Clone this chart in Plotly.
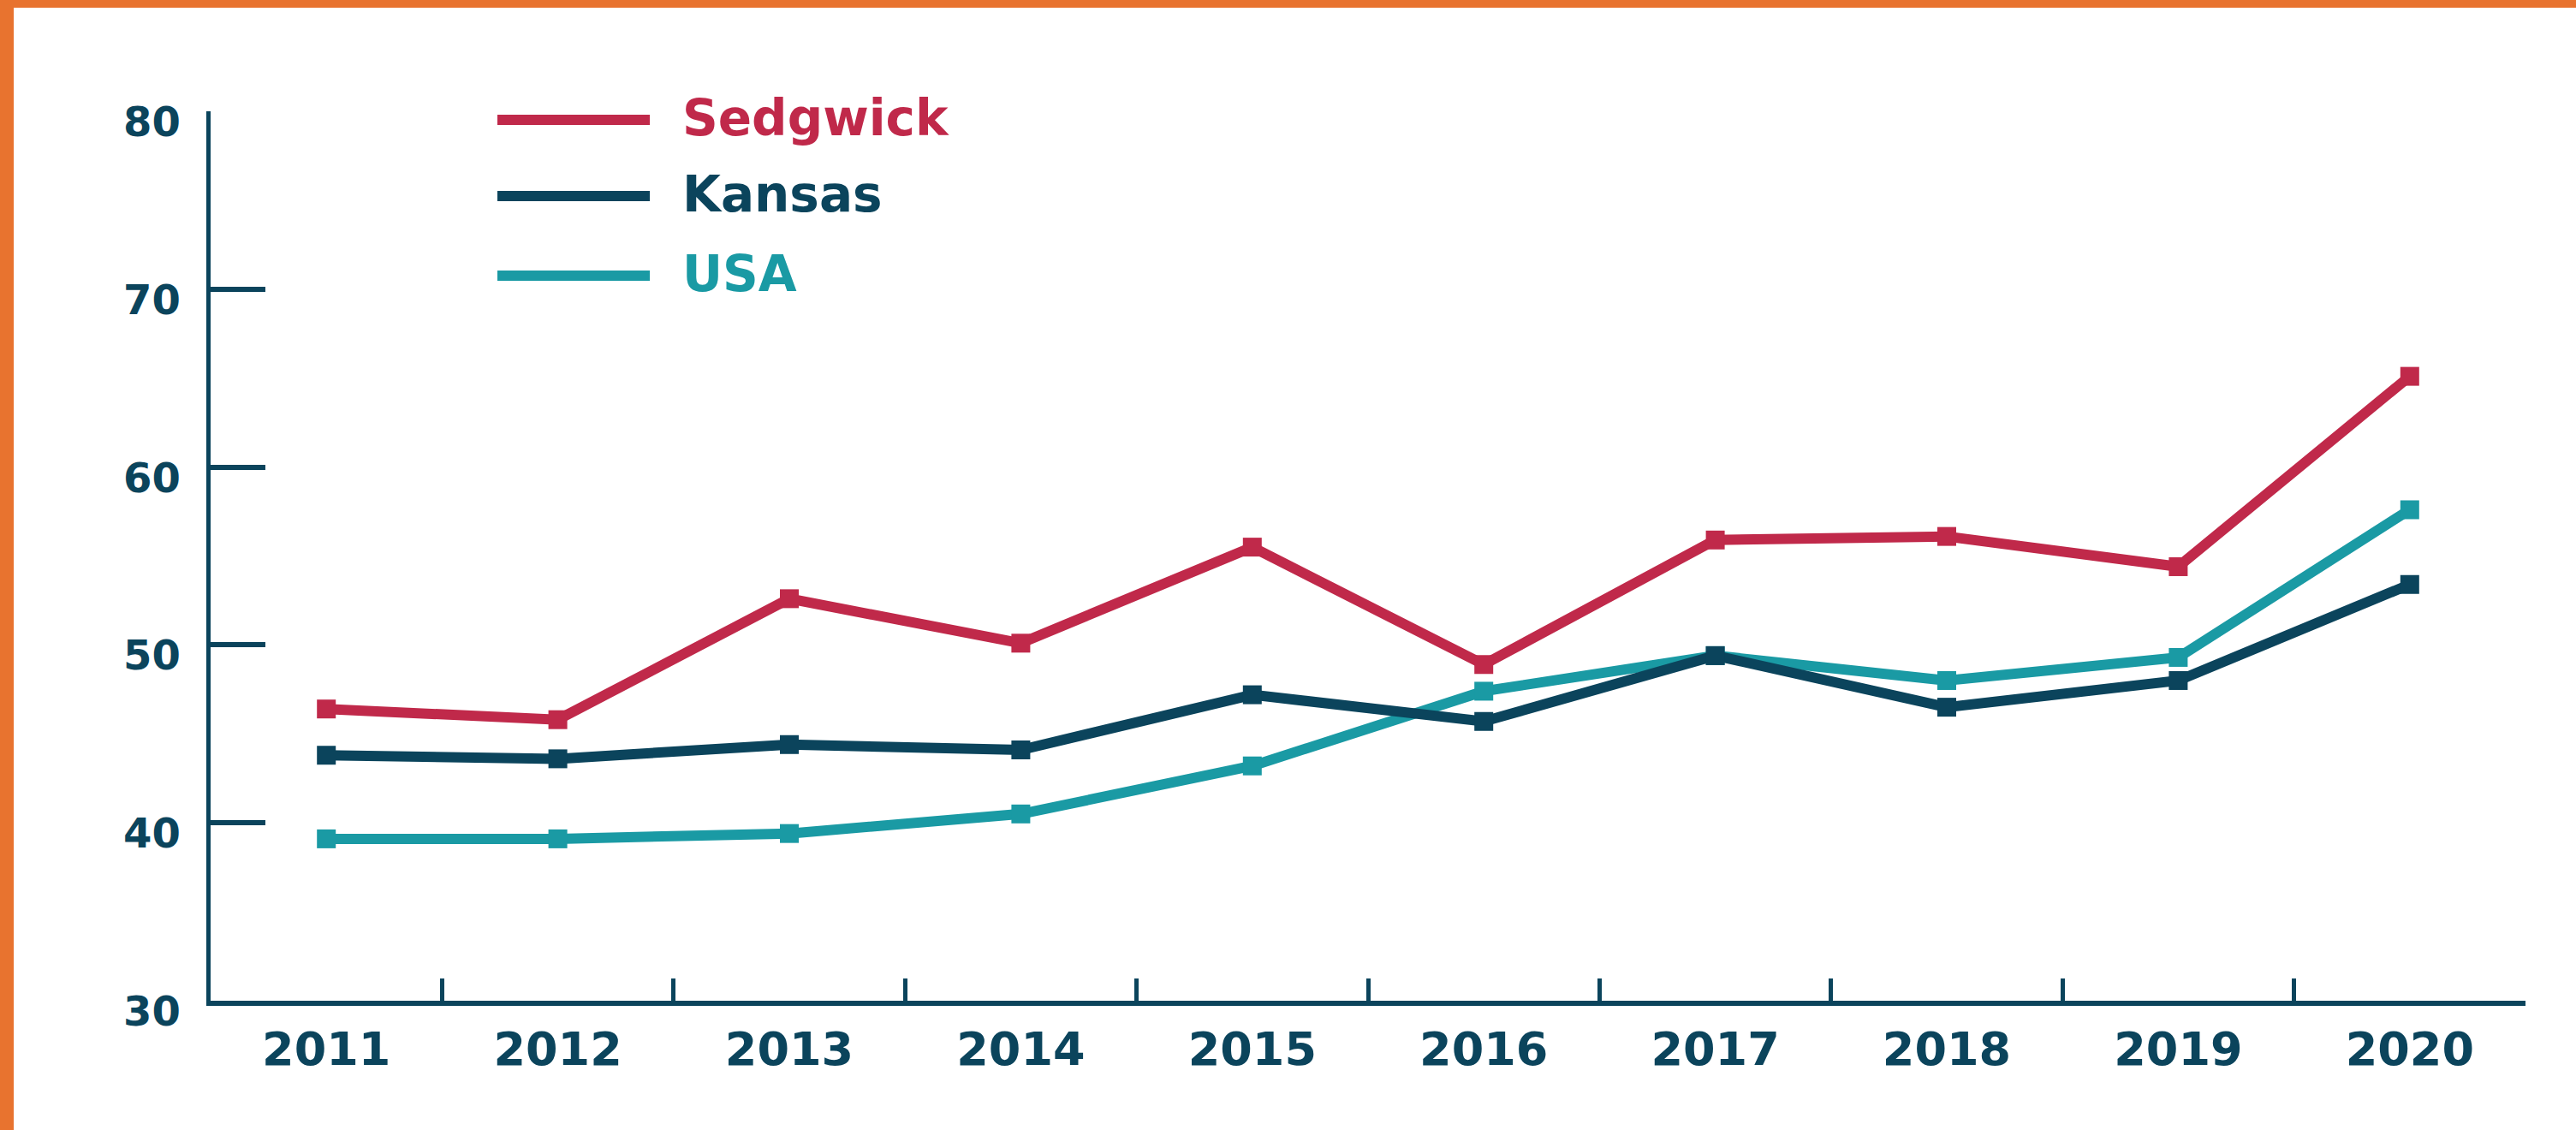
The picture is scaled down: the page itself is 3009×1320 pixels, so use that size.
import plotly.graph_objects as go

# ---- data ----
years = ["2011", "2012", "2013", "2014", "2015", "2016", "2017", "2018", "2019", "2020"]
sedgwick = [46.4, 45.8, 52.6, 50.1, 55.5, 48.9, 55.9, 56.1, 54.4, 65.1]
kansas = [43.8, 43.6, 44.4, 44.1, 47.2, 45.7, 49.4, 46.5, 48.0, 53.4]
usa = [39.1, 39.1, 39.4, 40.5, 43.2, 47.4, 49.4, 48.0, 49.3, 57.6]
series_names = ["Sedgwick", "Kansas", "USA"]
y_ticks = [30, 40, 50, 60, 70, 80]

# ---- style ----
C_SED = "#C0294A"
C_KAN = "#0B445C"
C_USA = "#1A9AA4"
C_ORANGE = "#E8732F"
FONT = "DejaVu Sans"

W, H = 3009, 1320
L, R, T, B = 246, 59, 130, 151
PW, PH = W - L - R, H - T - B


def px_x(x):
    return (x - L) / PW


def px_y(y):
    return (H - B - y) / PH


fig = go.Figure()
for name, vals, col in [("USA", usa, C_USA), ("Kansas", kansas, C_KAN), ("Sedgwick", sedgwick, C_SED)]:
    fig.add_trace(go.Scatter(
        x=years, y=vals, name=name, mode="lines+markers",
        line=dict(color=col, width=12),
        marker=dict(symbol="square", size=22, color=col),
        showlegend=False, cliponaxis=False, hoverinfo="skip",
    ))

shapes = []
annotations = []
# orange frame (top + left)
shapes.append(dict(type="rect", xref="paper", yref="paper",
                   x0=px_x(0), x1=px_x(16), y0=px_y(H), y1=px_y(0),
                   fillcolor=C_ORANGE, line=dict(width=0), layer="above"))
shapes.append(dict(type="rect", xref="paper", yref="paper",
                   x0=px_x(0), x1=px_x(W), y0=px_y(9), y1=px_y(0),
                   fillcolor=C_ORANGE, line=dict(width=0), layer="above"))

# custom legend
leg_y = [140, 229, 322]
for name, col, yy in zip(series_names, [C_SED, C_KAN, C_USA], leg_y):
    shapes.append(dict(type="line", xref="paper", yref="paper",
                       x0=px_x(581), x1=px_x(759), y0=px_y(yy), y1=px_y(yy),
                       line=dict(color=col, width=12)))
    annotations.append(dict(xref="paper", yref="paper", x=px_x(795), y=px_y(yy - 2),
                            xanchor="left", yanchor="middle", text=name, showarrow=False,
                            font=dict(family=FONT, size=58, color=col, weight="bold")))

# y tick labels (sit slightly below their ticks, as in the original)
for v in y_ticks:
    annotations.append(dict(xref="paper", yref="y", x=px_x(213), y=v, yshift=-12,
                            xanchor="right", yanchor="middle", text=str(v), showarrow=False,
                            font=dict(family=FONT, size=48, color=C_KAN, weight="bold")))

fig.update_layout(
    width=W, height=H,
    margin=dict(l=L, r=R, t=T, b=B, pad=0),
    paper_bgcolor="white", plot_bgcolor="white",
    shapes=shapes, annotations=annotations,
    showlegend=False,
    xaxis=dict(
        type="category", categoryorder="array", categoryarray=years,
        range=[-0.5, 9.5], tickson="boundaries",
        ticks="inside", ticklen=26, tickwidth=5, tickcolor=C_KAN,
        showline=True, linewidth=6, linecolor=C_KAN,
        showgrid=False, zeroline=False,
        tickfont=dict(family=FONT, size=54, color=C_KAN, weight="bold"),
        ticklabelstandoff=4,
    ),
    yaxis=dict(
        range=[30, 80], tickvals=y_ticks, showticklabels=False,
        ticks="inside", ticklen=64, tickwidth=6, tickcolor=C_KAN,
        showline=True, linewidth=5, linecolor=C_KAN,
        showgrid=False, zeroline=False,
    ),
)

fig.write_html("out.html", config={"displayModeBar": False},
               post_script="document.body.style.margin='0';")
